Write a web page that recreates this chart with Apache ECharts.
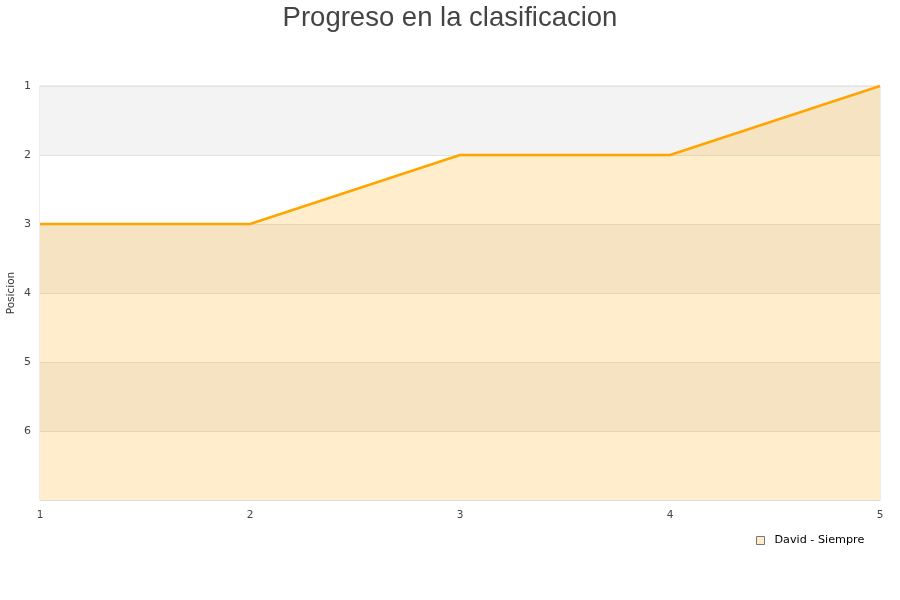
<!DOCTYPE html>
<html>
<head>
<meta charset="utf-8">
<script src="https://cdn.jsdelivr.net/npm/echarts@6/dist/echarts.min.js"></script>
<style>html,body{margin:0;padding:0;background:#fff}#c{width:900px;height:600px}</style>
</head>
<body>
<div id="c"></div>
<script>
const jornadas = [1, 2, 3, 4, 5];
const posiciones = [3, 3, 2, 2, 1];
const seriesName = 'David - Siempre';
const titleText = 'Progreso en la clasificacion';
const yAxisName = 'Posicion';

const chart = echarts.init(document.getElementById('c'), null, {renderer: 'canvas'});
chart.setOption({
  animation: false,
  backgroundColor: '#fff',
  title: {
    text: titleText,
    left: 'center',
    top: -1,
    textStyle: {fontFamily: 'Liberation Sans', fontSize: 27.5, fontWeight: 'normal', color: '#444'}
  },
  legend: {
    data: [seriesName],
    left: 751,
    top: 530,
    icon: 'rect',
    itemWidth: 8,
    itemHeight: 8,
    itemStyle: {color: '#ffeccc', borderColor: '#777', borderWidth: 1},
    textStyle: {fontFamily: 'DejaVu Sans', fontSize: 11.2, color: '#000', padding: [0, 0, 0, 5]}
  },
  grid: {left: 40, right: 20, top: 86, bottom: 100, containLabel: false, outerBoundsMode: 'none',
    show: true, borderColor: '#dcdcdc', borderWidth: 1, backgroundColor: 'transparent'},
  xAxis: {
    type: 'value',
    min: 1, max: 5, interval: 1,
    axisLine: {show: true, lineStyle: {color: '#dcdcdc'}},
    axisTick: {show: false},
    splitLine: {show: false},
    axisLabel: {fontFamily: 'DejaVu Sans', fontSize: 10.5, color: '#444', margin: 10}
  },
  yAxis: {
    type: 'value',
    inverse: true,
    min: 1, max: 7, interval: 1,
    name: yAxisName,
    nameLocation: 'middle',
    nameGap: 23.5,
    nameMoveOverlap: false,
    nameRotate: 90,
    nameTextStyle: {fontFamily: 'DejaVu Sans', fontSize: 10.5, color: '#333'},
    axisLine: {show: false},
    axisTick: {show: false},
    axisLabel: {fontFamily: 'DejaVu Sans', fontSize: 11, color: '#444', margin: 9,
      formatter: v => v === 7 ? '' : String(v)},
    splitLine: {show: true, lineStyle: {color: '#e2e2e2'}},
    splitArea: {show: true, areaStyle: {color: ['#f3f3f3', '#ffffff']}}
  },
  series: [{
    name: seriesName,
    type: 'line',
    data: jornadas.map((j, i) => [j, posiciones[i]]),
    showSymbol: false,
    symbol: 'none',
    lineStyle: {color: '#ffa500', width: 2.5},
    itemStyle: {color: '#ffa500'},
    areaStyle: {color: 'rgba(255,165,0,0.2)', opacity: 1, origin: 'end'}
  }]
});
</script>
</body>
</html>
